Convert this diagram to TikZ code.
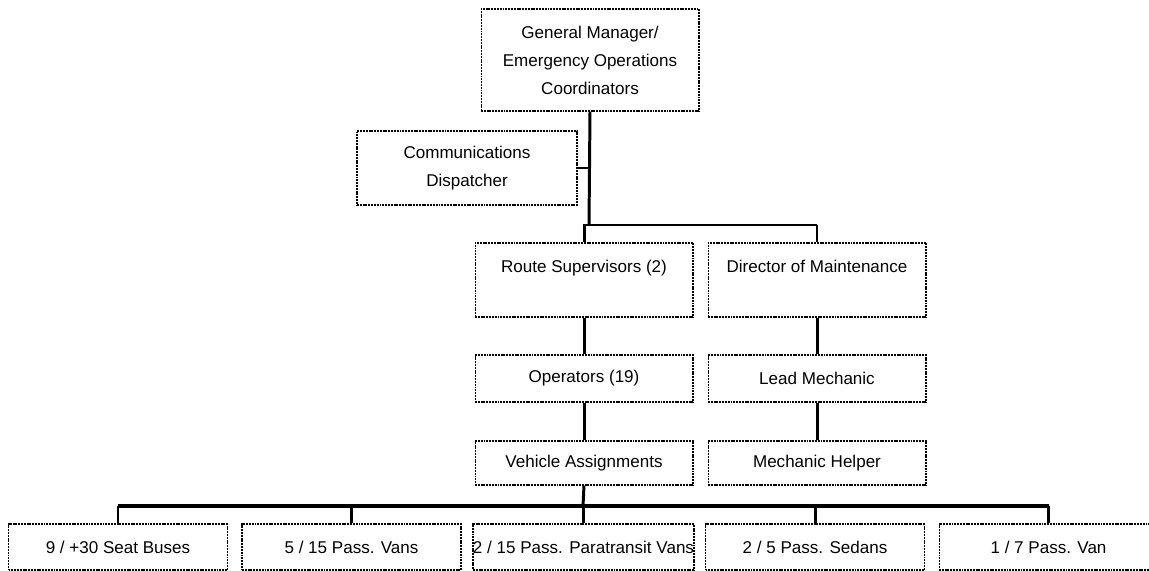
\documentclass[tikz,border=0pt]{standalone}
\usepackage{fontspec}
\setmainfont{Liberation Sans}

\begin{document}
\begin{tikzpicture}[x=0.02cm,y=-0.02cm,
  post/.style={draw,dash pattern=on 1.1pt off 0.5pt,line width=0.6pt,align=center,inner sep=0pt,font=\fontsize{9.7}{15.9}\selectfont,minimum width=4.36cm},
  link/.style={line width=1.7pt},
  busline/.style={line width=2.6pt}]
\clip (0,0) rectangle (1149,571);
\node[post,minimum height=2.04cm] (gm) at (590,60) {General Manager/\\Emergency Operations\\Coordinators};
\node[post,minimum width=4.4cm,minimum height=1.48cm] (comm) at (467,168) {Communications\\Dispatcher};
\node[post,minimum height=1.48cm] (route) at (584,280) {Route Supervisors (2)\\~};
\node[post,minimum height=1.48cm] (dir) at (817,280) {Director of Maintenance\\~};
\node[post,minimum height=0.94cm] (ops) at (584,378.5) {Operators (19)};
\node[post,minimum height=0.94cm] (lead) at (817,378.5) {Lead Mechanic};
\node[post,minimum height=0.88cm] (veh) at (584,463) {Vehicle Assignments};
\node[post,minimum height=0.88cm] (helper) at (817,463) {Mechanic Helper};
\node[post,minimum width=4.38cm,minimum height=0.92cm] (v1) at (118,547) {9 / +30 Seat Buses};
\node[post,minimum width=4.38cm,minimum height=0.92cm] (v2) at (351.5,547) {5 / 15 Pass. Vans};
\node[post,minimum width=4.38cm,minimum height=0.92cm] (v3) at (583.5,547) {2 / 15 Pass. Paratransit Vans};
\node[post,minimum width=4.38cm,minimum height=0.92cm] (v4) at (815,547) {2 / 5 Pass. Sedans};
\node[post,minimum width=4.38cm,minimum height=0.92cm] (v5) at (1048.5,547) {1 / 7 Pass. Van};
\coordinate (split) at (589,225);
\coordinate (bus) at (583,506);
\draw[link] (gm.south) -- (split);
\draw[link] (comm.east) -- (comm.east -| gm.south);
\draw[link] (route.north) |- (split) -- (split -| dir.north);
\draw[line width=1pt] (split -| dir.north) -- (dir.north);
\draw[link] (route) -- (ops) -- (veh);
\draw[link] (dir) -- (lead) -- (helper);
\draw[link] (veh.south) -- (bus);
\foreach \v in {v1,v2,v3,v4,v5}
  \draw[link] (\v.north) -- (\v.north |- bus);
\draw[busline] (v1.north |- bus) -- (v5.north |- bus);
\end{tikzpicture}
\end{document}
